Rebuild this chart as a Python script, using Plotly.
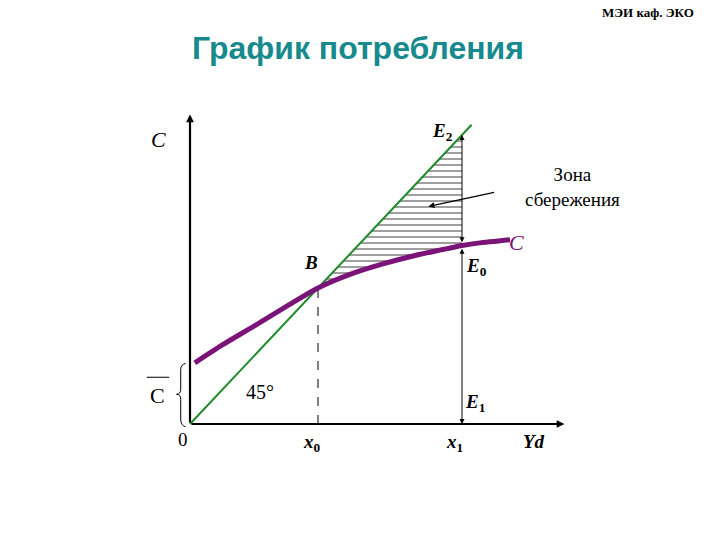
import plotly.graph_objects as go

# ---- data (diagram units) ----
yd_curve = [0.15, 1.0, 2.0, 3.0, 4.0, 5.0, 6.0, 7.0, 8.0, 8.5, 9.0, 10.0]
c_curve = [1.8, 2.32, 2.88, 3.45, 4.0, 4.4, 4.7, 4.95, 5.15, 5.25, 5.32, 5.42]
c_bar = 1.75          # autonomous consumption
x0 = 4.0              # break-even income
x1 = 8.5              # income level
c_at_x1 = 5.25        # consumption at x1 (E0)
line45_end = 8.8
x_axis_end = 11.7
y_axis_end = 9.1

SERIF = "Times New Roman, Liberation Serif, serif"
GREEN = "#1f8a2a"
PURPLE = "#7a1478"

fig = go.Figure()

# hatched savings zone (between 45° line and consumption curve, from x0 to x1)
pairs = [(v, c) for v, c in zip(yd_curve, c_curve) if x0 <= v < x1]
hx = [x0, x1, x1] + [v for v, c in reversed(pairs)]
hy = [x0, x1, c_at_x1] + [c for v, c in reversed(pairs)]
fig.add_trace(go.Scatter(
    x=hx, y=hy, mode="lines", fill="toself", line=dict(width=0, color="rgba(0,0,0,0)"),
    fillcolor="rgba(0,0,0,0)",
    fillpattern=dict(shape="-", size=6, solidity=0.25, fgcolor="black", bgcolor="rgba(255,255,255,0)"),
    hoverinfo="skip", showlegend=False))

# dashed x0 drop line
fig.add_trace(go.Scatter(x=[x0, x0], y=[0, x0], mode="lines",
                         line=dict(color="black", width=1, dash="dash"), showlegend=False))

# 45 degree line
fig.add_trace(go.Scatter(x=[0, line45_end], y=[0, line45_end], mode="lines",
                         line=dict(color=GREEN, width=2), showlegend=False))

# consumption curve
fig.add_trace(go.Scatter(x=yd_curve, y=c_curve, mode="lines",
                         line=dict(color=PURPLE, width=5, shape="spline", smoothing=0.8),
                         showlegend=False))

ann = []
def arrow(x, y, ax, ay, width=1.0, side="end", head=2, size=1.0):
    ann.append(dict(x=x, y=y, ax=ax, ay=ay, xref="x", yref="y", axref="x", ayref="y",
                    showarrow=True, arrowhead=head, startarrowhead=head, arrowsize=size,
                    startarrowsize=size, arrowwidth=width, arrowcolor="black",
                    arrowside=side, text=""))

# axes with arrows
arrow(0, y_axis_end, 0, 0, width=2.2, size=0.7)
arrow(x_axis_end, 0, 0, 0, width=2.2, size=0.7)
# vertical at x1 (E2 <-> E0, E0 <-> E1)
arrow(x1, x1, x1, c_at_x1 + 0.05, width=1, side="end+start", size=1.0)
arrow(x1, 0, x1, c_at_x1 - 0.05, width=1, side="end+start", size=1.0)
# pointer to savings zone
arrow(7.45, 6.4, 9.55, 6.82, width=1.2, size=1.0)

def label(x, y, text, size=18, color="black", family=SERIF):
    ann.append(dict(x=x, y=y, xref="x", yref="y", text=text, showarrow=False,
                    xanchor="center", yanchor="middle",
                    font=dict(family=family, size=size, color=color)))

label(-1.0, 8.38, "<i>C</i>", size=22)
label(x1 - 0.6, x1 + 0.1, "<b><i>E</i><sub>2</sub></b>", size=19)
label(11.95, 6.97, "Зона<br>сбережения", size=19)
label(x1 + 1.7, c_at_x1 + 0.1, "<i>C</i>", size=22, color=PURPLE)
label(x0 - 0.22, x0 + 0.76, "<b><i>B</i></b>", size=19)
label(x1 + 0.45, c_at_x1 - 0.62, "<b><i>E</i><sub>0</sub></b>", size=19)
label(2.2, 0.94, "45°", size=20)
label(x1 + 0.42, 0.62, "<b><i>E</i><sub>1</sub></b>", size=19)
label(-0.22, -0.47, "0", size=19)
label(x0 - 0.2, -0.55, "<b><i>x</i><sub>0</sub></b>", size=19)
label(x1 - 0.22, -0.55, "<b><i>x</i><sub>1</sub></b>", size=19)
label(10.75, -0.5, "<b><i>Yd</i></b>", size=19)
label(-1.03, c_bar * 0.5 - 0.05, "C", size=22, family=SERIF)

# title and header as paper text
ann.append(dict(x=358 / 720, y=1 - 48 / 540, xref="paper", yref="paper",
                text="<b>График потребления</b>", xanchor="center", yanchor="middle",
                showarrow=False, font=dict(family="Liberation Sans, Arial, sans-serif", size=32, color="#178a8e")))
ann.append(dict(x=648 / 720, y=1 - 13 / 540, xref="paper", yref="paper",
                text="<b>МЭИ каф. ЭКО</b>", xanchor="center", yanchor="middle",
                showarrow=False, font=dict(family=SERIF, size=13, color="black")))

shapes = []
# overline of C-bar
shapes.append(dict(type="line", xref="x", yref="y", x0=-1.35, x1=-0.65,
                   y0=c_bar * 0.5 + 0.5, y1=c_bar * 0.5 + 0.5, line=dict(color="black", width=1)))
# curly brace spanning autonomous consumption
bx = -0.14
mid = c_bar / 2
path = (f"M {bx} {c_bar + 0.03} Q {bx - 0.15} {c_bar} {bx - 0.15} {c_bar - 0.15} "
        f"L {bx - 0.15} {mid + 0.15} Q {bx - 0.15} {mid} {bx - 0.28} {mid} "
        f"Q {bx - 0.15} {mid} {bx - 0.15} {mid - 0.15} "
        f"L {bx - 0.15} {0.15} Q {bx - 0.15} {-0.05} {bx} {-0.08}")
shapes.append(dict(type="path", xref="x", yref="y", path=path, line=dict(color="black", width=1)))

fig.update_layout(
    width=720, height=540, margin=dict(l=0, r=0, t=0, b=0),
    plot_bgcolor="white", paper_bgcolor="white", showlegend=False,
    xaxis=dict(range=[-190 / 32, (720 - 190) / 32], visible=False, fixedrange=True),
    yaxis=dict(range=[-(540 - 424) / 34, 424 / 34], visible=False, fixedrange=True),
    annotations=ann, shapes=shapes,
)

fig.write_html("out.html", config={"displayModeBar": False, "staticPlot": True},
               post_script="document.body.style.margin='0';document.body.style.overflow='hidden';")
